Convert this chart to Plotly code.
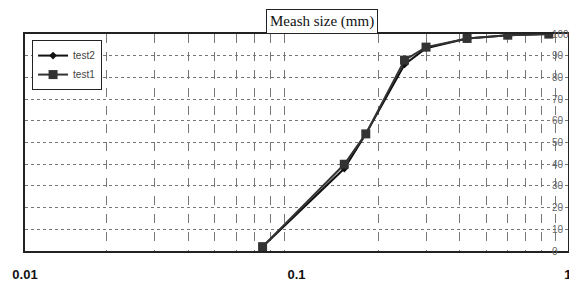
import plotly.graph_objects as go

sizes = [0.075, 0.15, 0.18, 0.25, 0.3, 0.425, 0.6, 0.85]
test1 = [2, 40, 54, 88, 94, 98, 99.5, 100]
test2 = [2, 38, 54, 86, 93.5, 98, 99.5, 100]
x_ticks = [0.01, 0.1, 1]
x_tick_labels = ["<b>0.01</b>", "<b>0.1</b>", "<b>1</b>"]
x_minor = [0.02, 0.03, 0.04, 0.05, 0.06, 0.07, 0.08, 0.09,
           0.2, 0.3, 0.4, 0.5, 0.6, 0.7, 0.8, 0.9]
y_ticks = list(range(0, 101, 10))

fig = go.Figure()
# invisible helper trace on a second x axis so its minor-position grid is drawn
fig.add_trace(go.Scatter(x=[0.01, 1], y=[0, 0], xaxis="x2", mode="markers",
                         marker=dict(opacity=0), showlegend=False, hoverinfo="skip"))
fig.add_trace(go.Scatter(x=sizes, y=test2, name="test2", mode="lines+markers",
                         line=dict(color="#111", width=2),
                         marker=dict(symbol="diamond", size=6, color="#111")))
fig.add_trace(go.Scatter(x=sizes, y=test1, name="test1", mode="lines+markers",
                         line=dict(color="#333", width=2),
                         marker=dict(symbol="square", size=9, color="#333")))

fig.update_layout(
    width=569, height=273,
    margin=dict(l=17, r=9, t=26, b=30, autoexpand=False),
    paper_bgcolor="white", plot_bgcolor="white",
    font=dict(family="Liberation Sans, Arial", color="#222"),
    showlegend=True,
    legend=dict(x=0.013, y=0.972, xanchor="left", yanchor="top",
                bordercolor="#222", borderwidth=1, bgcolor="white",
                font=dict(size=10, color="#444"), itemwidth=30,
                tracegroupgap=2),
    xaxis=dict(type="log", range=[-2.0001, 0.0001], tickvals=x_ticks,
               ticktext=x_tick_labels,
               showgrid=False, showline=True, linecolor="#222", linewidth=2,
               mirror=True, ticks="", ticklabelstandoff=10, automargin=False,
               tickfont=dict(size=13, color="#111", family="Liberation Sans")),
    xaxis2=dict(type="log", range=[-2.0001, 0.0001], overlaying="x", side="bottom",
                tickvals=x_minor, showticklabels=False, showgrid=True,
                gridcolor="#777", griddash="dash", gridwidth=1, ticks="",
                showline=False, automargin=False, layer="below traces"),
    yaxis=dict(range=[0, 100.05], tickvals=y_ticks, side="right",
               ticklabelposition="outside", ticklabelstandoff=-24,
               showgrid=True, gridcolor="#777",
               griddash="dot", gridwidth=1, showline=True, linecolor="#222",
               linewidth=2, mirror=True, ticks="outside", ticklen=4,
               tickcolor="#222", zeroline=False, automargin=False,
               tickfont=dict(size=10, color="#666")),
    annotations=[dict(text="Meash size (mm)", xref="paper", yref="paper",
                      x=0.547, y=1.0, xanchor="center", yanchor="bottom",
                      showarrow=False, bordercolor="#222", borderwidth=1,
                      borderpad=3, bgcolor="white",
                      font=dict(family="Liberation Serif", size=15, color="#111"))],
)
fig.write_html("out.html")
